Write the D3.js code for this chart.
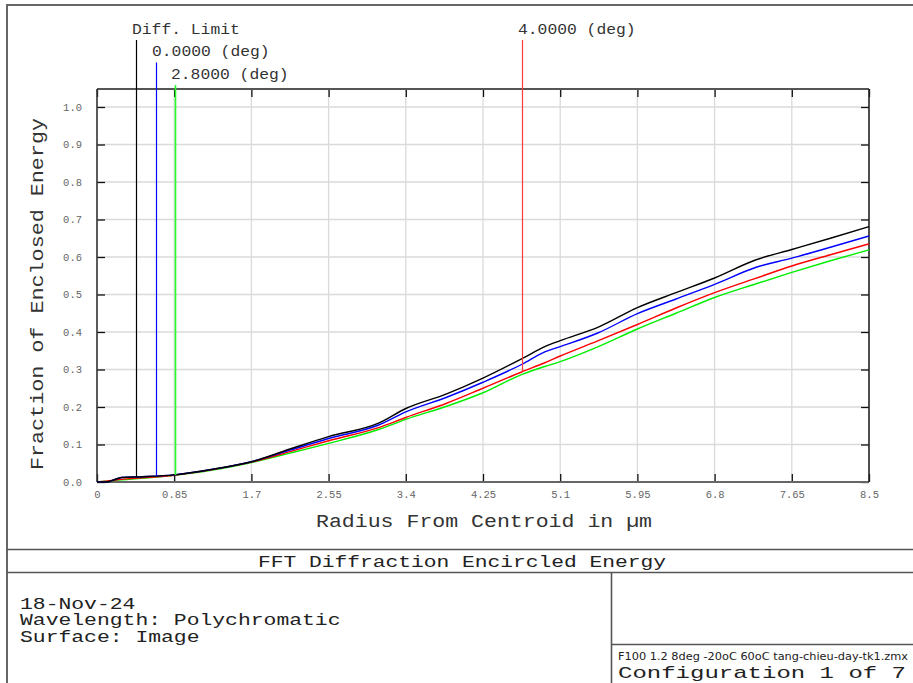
<!DOCTYPE html>
<html>
<head>
<meta charset="utf-8">
<script src="https://cdn.jsdelivr.net/npm/d3@7"></script>
<style>
  html, body { margin: 0; padding: 0; background: #fff; }
  svg { display: block; }
</style>
</head>
<body>
<svg id="chart" width="913" height="683"></svg>
<script>
// ---------------- data ----------------
const radius      = [0, 0.1, 0.27, 0.5, 0.85, 1.275, 1.7, 2.125, 2.55, 3.1, 3.4, 3.85, 4.25, 4.68, 4.93, 5.1, 5.52, 5.95, 6.375, 6.8, 7.25, 7.65, 8.075, 8.5];
const eeDiffLimit = [0, 0.0, 0.012, 0.014, 0.019, 0.034, 0.054, 0.088, 0.121, 0.157, 0.196, 0.235, 0.277, 0.329, 0.361, 0.377, 0.413, 0.465, 0.505, 0.544, 0.592, 0.620, 0.650, 0.681];
const ee0deg      = [0, 0.0, 0.012, 0.014, 0.019, 0.034, 0.054, 0.085, 0.116, 0.152, 0.187, 0.226, 0.266, 0.314, 0.347, 0.361, 0.398, 0.449, 0.488, 0.527, 0.572, 0.597, 0.626, 0.656];
const ee28deg     = [0, 0.002, 0.006, 0.010, 0.018, 0.032, 0.052, 0.077, 0.103, 0.140, 0.167, 0.202, 0.238, 0.287, 0.308, 0.321, 0.361, 0.408, 0.450, 0.492, 0.528, 0.559, 0.590, 0.619];
const ee4deg      = [0, 0.002, 0.007, 0.011, 0.018, 0.033, 0.053, 0.081, 0.110, 0.145, 0.172, 0.210, 0.250, 0.294, 0.318, 0.336, 0.377, 0.420, 0.464, 0.505, 0.543, 0.576, 0.606, 0.635];

const seriesNames  = ["Diff. Limit", "0.0000 (deg)", "2.8000 (deg)", "4.0000 (deg)"];
const seriesColors = ["#000000", "#0000ff", "#00ee00", "#ff0000"];
const markerRadius = [0.43, 0.65, 0.86, 4.68];
const markerValue  = [0.013, 0.016, 0.019, 0.294];

const xTicks      = [0, 0.85, 1.7, 2.55, 3.4, 4.25, 5.1, 5.95, 6.8, 7.65, 8.5];
const xTickLabels = ["0", "0.85", "1.7", "2.55", "3.4", "4.25", "5.1", "5.95", "6.8", "7.65", "8.5"];
const yTicks      = [0, 0.1, 0.2, 0.3, 0.4, 0.5, 0.6, 0.7, 0.8, 0.9, 1.0];
const yTickLabels = ["0.0", "0.1", "0.2", "0.3", "0.4", "0.5", "0.6", "0.7", "0.8", "0.9", "1.0"];

const titleText  = "FFT Diffraction Encircled Energy";
const xTitle     = "Radius From Centroid in µm";
const yTitle     = "Fraction of Enclosed Energy";
const infoLines  = ["18-Nov-24", "Wavelength: Polychromatic", "Surface: Image"];
const fileName   = "F100 1.2 8deg -20oC 60oC tang-chieu-day-tk1.zmx";
const configText = "Configuration 1 of 7";

// ---------------- layout ----------------
const svg = d3.select("#chart");
const mono = "'Liberation Mono', 'Courier New', monospace";
const L = 97, R = 869, T = 89, B = 482;

const x = d3.scaleLinear().domain([0, 8.5]).range([L, R]);
const y = d3.scaleLinear().domain([0, 1.0]).range([B, 107]);

// outer frame
svg.append("rect").attr("x", 7).attr("y", 5).attr("width", 920).attr("height", 700)
  .attr("fill", "none").attr("stroke", "#666").attr("stroke-width", 2);

// grid
const grid = svg.append("g");
grid.selectAll("line.gx").data(xTicks.slice(1, -1)).join("line")
  .attr("x1", d => x(d)).attr("x2", d => x(d)).attr("y1", T).attr("y2", B)
  .attr("stroke", "#dadada").attr("stroke-width", 1.3);
grid.selectAll("line.gy").data(yTicks.slice(1)).join("line")
  .attr("x1", L).attr("x2", R).attr("y1", d => y(d)).attr("y2", d => y(d))
  .attr("stroke", "#dadada").attr("stroke-width", 1.3);

// axes via d3 axis (inner ticks)
const axB = d3.axisBottom(x).tickValues(xTicks).tickSize(-8).tickSizeOuter(0)
  .tickFormat((d, i) => xTickLabels[i]).tickPadding(12);
const axT = d3.axisTop(x).tickValues(xTicks).tickSize(-8).tickSizeOuter(0).tickFormat("");
const axLft = d3.axisLeft(y).tickValues(yTicks).tickSize(-8).tickSizeOuter(0)
  .tickFormat((d, i) => yTickLabels[i]).tickPadding(15);
const axRgt = d3.axisRight(y).tickValues(yTicks).tickSize(-8).tickSizeOuter(0).tickFormat("");

function styleAxis(g) {
  g.select(".domain").remove();
  g.selectAll(".tick line").attr("stroke", "#111").attr("stroke-width", 1.3);
  g.selectAll(".tick text").attr("fill", "#666").attr("font-family", mono).attr("font-size", 10.5);
}
svg.append("g").attr("transform", `translate(0,${B})`).call(axB).call(styleAxis)
  .selectAll(".tick text").attr("dy", "0.35em");
svg.append("g").attr("transform", `translate(0,${T})`).call(axT).call(styleAxis);
svg.append("g").attr("transform", `translate(${L},0)`).call(axLft).call(styleAxis);
svg.append("g").attr("transform", `translate(${R},0)`).call(axRgt).call(styleAxis);

// plot box
svg.append("line").attr("x1", L).attr("x2", R).attr("y1", T).attr("y2", T).attr("stroke", "#555").attr("stroke-width", 2);
svg.append("line").attr("x1", L).attr("x2", R).attr("y1", B).attr("y2", B).attr("stroke", "#666").attr("stroke-width", 2.2);
svg.append("line").attr("x1", L).attr("x2", L).attr("y1", T).attr("y2", B).attr("stroke", "#333").attr("stroke-width", 1.6);
svg.append("line").attr("x1", R).attr("x2", R).attr("y1", T).attr("y2", B).attr("stroke", "#222").attr("stroke-width", 1.6);

// curves (draw order so black on top)
const seriesData = [eeDiffLimit, ee0deg, ee28deg, ee4deg];
const line = d3.line().x(d => x(d[0])).y(d => y(d[1])).curve(d3.curveMonotoneX);
const drawOrder = [2, 3, 1, 0];
svg.append("g").selectAll("path").data(drawOrder).join("path")
  .attr("d", i => line(radius.map((r, k) => [r, seriesData[i][k]])))
  .attr("fill", "none").attr("stroke", i => seriesColors[i]).attr("stroke-width", 1.4);

// marker lines + labels
const labelRow = [0, 1, 2, 0];
const rowTop = [40, 62.5, 85];
const rowBase = [34, 56, 79];
const markerStroke = ["#000000", "#0000ff", "#22ff22", "#ff3a3a"];
const mk = svg.append("g");
seriesNames.forEach((name, i) => {
  const mx = Math.round(x(markerRadius[i])) + 0.5;
  mk.append("line").attr("x1", mx).attr("x2", mx)
    .attr("y1", rowTop[labelRow[i]]).attr("y2", y(markerValue[i]))
    .attr("stroke", markerStroke[i]).attr("stroke-width", i === 2 ? 1.6 : 1.2);
  mk.append("text").attr("x", mx - 4.5).attr("y", rowBase[labelRow[i]])
    .attr("font-family", mono).attr("font-size", 15.5).attr("fill", "#333")
    .attr("textLength", name.length * 9.8).attr("lengthAdjust", "spacingAndGlyphs")
    .text(name);
});

// axis titles
svg.append("text").attr("x", (L + R) / 2 + 1).attr("y", 527).attr("text-anchor", "middle")
  .attr("font-family", mono).attr("font-size", 17.5).attr("fill", "#333")
  .attr("textLength", 336).attr("lengthAdjust", "spacingAndGlyphs").text(xTitle);
svg.append("text").attr("transform", `translate(43,${294}) rotate(-90)`).attr("text-anchor", "middle")
  .attr("font-family", mono).attr("font-size", 17.5).attr("fill", "#333")
  .attr("textLength", 352).attr("lengthAdjust", "spacingAndGlyphs").text(yTitle);

// bottom panel
const panel = svg.append("g").attr("stroke", "#555").attr("stroke-width", 1.6);
panel.append("line").attr("x1", 7).attr("x2", 913).attr("y1", 549.5).attr("y2", 549.5);
panel.append("line").attr("x1", 7).attr("x2", 913).attr("y1", 572.5).attr("y2", 572.5);
panel.append("line").attr("x1", 611.5).attr("x2", 611.5).attr("y1", 572.5).attr("y2", 683);
panel.append("line").attr("x1", 611.5).attr("x2", 913).attr("y1", 644.5).attr("y2", 644.5);

svg.append("text").attr("x", 462).attr("y", 567).attr("text-anchor", "middle")
  .attr("font-family", mono).attr("font-size", 16.5).attr("fill", "#222")
  .attr("textLength", 408).attr("lengthAdjust", "spacingAndGlyphs").text(titleText);

svg.append("g").selectAll("text").data(infoLines).join("text")
  .attr("x", 20).attr("y", (d, i) => 608.5 + i * 16.6)
  .attr("font-family", mono).attr("font-size", 16).attr("fill", "#222")
  .attr("textLength", d => d.length * 12.82).attr("lengthAdjust", "spacingAndGlyphs")
  .text(d => d);

svg.append("text").attr("x", 618).attr("y", 660)
  .attr("font-family", "'Liberation Sans Narrow', 'DejaVu Sans Condensed', 'Liberation Serif', serif")
  .attr("font-size", 10.5).attr("fill", "#222")
  .attr("textLength", 290).attr("lengthAdjust", "spacingAndGlyphs").text(fileName);
svg.append("text").attr("x", 618).attr("y", 677.5)
  .attr("font-family", mono).attr("font-size", 17).attr("fill", "#222")
  .attr("textLength", 288).attr("lengthAdjust", "spacingAndGlyphs").text(configText);
</script>
</body>
</html>
